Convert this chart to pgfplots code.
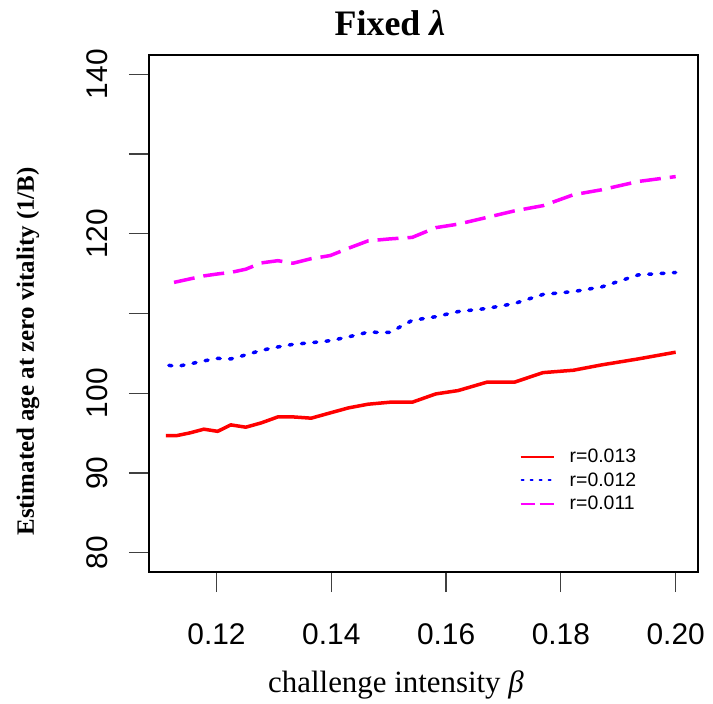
\documentclass[border=0pt]{standalone}
\usepackage{pgfplots}
\pgfplotsset{compat=1.18}
\usepackage{fontspec}
\setmainfont{Liberation Serif}
\setsansfont{Liberation Sans}
\definecolor{rred}{RGB}{255,0,0}
\definecolor{rblue}{RGB}{0,0,255}
\definecolor{rmag}{RGB}{255,0,255}
\begin{document}
\begin{tikzpicture}
\useasboundingbox (-149bp,-132bp) rectangle (564bp,572bp);
\begin{axis}[
  at={(0bp,0bp)}, anchor=south west,
  scale only axis, width=549bp, height=517bp,
  xmin=0.10824, xmax=0.20389, ymin=77.6, ymax=142.4,
  axis line style={black, line width=1.6bp},
  tick style={black!75, line width=1.2bp},
  tick align=outside, major tick length=20bp,
  xtick pos=bottom, ytick pos=left,
  xtick={0.12,0.14,0.16,0.18,0.20},
  xticklabels={0.12,0.14,0.16,0.18,0.20},
  ytick={80,90,100,110,120,130,140},
  yticklabels={80,90,100,{},120,{},140},
  xticklabel style={font=\fontsize{30}{30}\selectfont\sffamily, anchor=base, yshift=-52bp},
  yticklabel style={font=\fontsize{30}{30}\selectfont\sffamily, xshift=-21bp, rotate=90, anchor=base},
  /pgf/number format/assume math mode=true,
  clip=false,
  legend style={draw=none, fill=none, inner sep=0bp, at={(0.6745,0.241)}, anchor=north west,
    font=\fontsize{19.5}{19.5}\selectfont\sffamily,
    nodes={inner sep=1bp, text height=14bp, text depth=0bp},
    row sep=7.5bp,
    /tikz/every odd column/.append style={column sep=14bp}},
  legend cell align=left,
]
\addplot[rred, line width=3.5bp, line join=round,
  legend image code/.code={\draw[draw=rred, line width=2.2bp] (0bp,-1bp) -- (33bp,-1bp);}] coordinates {
(0.1112,94.70) (0.1131,94.70) (0.1154,95.04) (0.1178,95.50) (0.1202,95.23)
(0.1225,96.04) (0.1251,95.75) (0.1278,96.29) (0.1307,97.04) (0.1333,97.04)
(0.1365,96.88) (0.1398,97.54) (0.1430,98.17) (0.1464,98.63) (0.1502,98.88)
(0.1541,98.88) (0.1582,99.92) (0.1621,100.34) (0.1671,101.39) (0.1719,101.39)
(0.1769,102.59) (0.1822,102.89) (0.1871,103.56) (0.1935,104.31) (0.2000,105.15)
};
\addlegendentry{r=0.013}
\addplot[rblue, line width=3.5bp, line cap=round, dash pattern=on 3bp off 9.3bp,
  legend image code/.code={\draw[draw=rblue, line width=2.2bp, line cap=round, dash pattern=on 2bp off 7bp] (1bp,-1bp) -- (33bp,-1bp);}] coordinates {
(0.1117,103.50) (0.1131,103.37) (0.1154,103.68) (0.1178,104.06) (0.1202,104.37)
(0.1225,104.31) (0.1251,104.81) (0.1278,105.38) (0.1307,105.81) (0.1333,106.13)
(0.1365,106.34) (0.1398,106.59) (0.1430,107.07) (0.1464,107.66) (0.1502,107.63)
(0.1541,109.14) (0.1582,109.60) (0.1621,110.24) (0.1671,110.63) (0.1719,111.25)
(0.1769,112.39) (0.1822,112.75) (0.1871,113.33) (0.1935,114.84) (0.2000,115.14)
};
\addlegendentry{r=0.012}
\addplot[rmag, line width=3.5bp, line join=round, dash pattern=on 21bp off 9bp,
  legend image code/.code={\draw[draw=rmag, line width=2.2bp, dash pattern=on 14bp off 5bp] (0bp,-1bp) -- (33bp,-1bp);}] coordinates {
(0.1126,113.90) (0.1154,114.34) (0.1178,114.71) (0.1202,114.96)
(0.1225,115.15) (0.1251,115.55) (0.1278,116.34) (0.1307,116.62) (0.1333,116.30)
(0.1365,116.87) (0.1398,117.26) (0.1430,118.18) (0.1464,119.10) (0.1502,119.35)
(0.1541,119.54) (0.1582,120.76) (0.1621,121.20) (0.1671,122.04) (0.1719,122.86)
(0.1769,123.52) (0.1822,124.89) (0.1871,125.51) (0.1935,126.55) (0.2000,127.16)
};
\addlegendentry{r=0.011}
\end{axis}
\node[anchor=base, font=\fontsize{36}{36}\selectfont\bfseries] at (241bp,536bp) {Fixed \textit{λ}};
\node[anchor=base, font=\fontsize{31}{31}\selectfont] at (247bp,-120bp) {challenge intensity \textit{β}};
\node[rotate=90, anchor=center, font=\fontsize{25}{25}\selectfont\bfseries] at (-121bp,220.5bp) {Estimated age at zero vitality (1/B)};
\end{tikzpicture}
\end{document}
